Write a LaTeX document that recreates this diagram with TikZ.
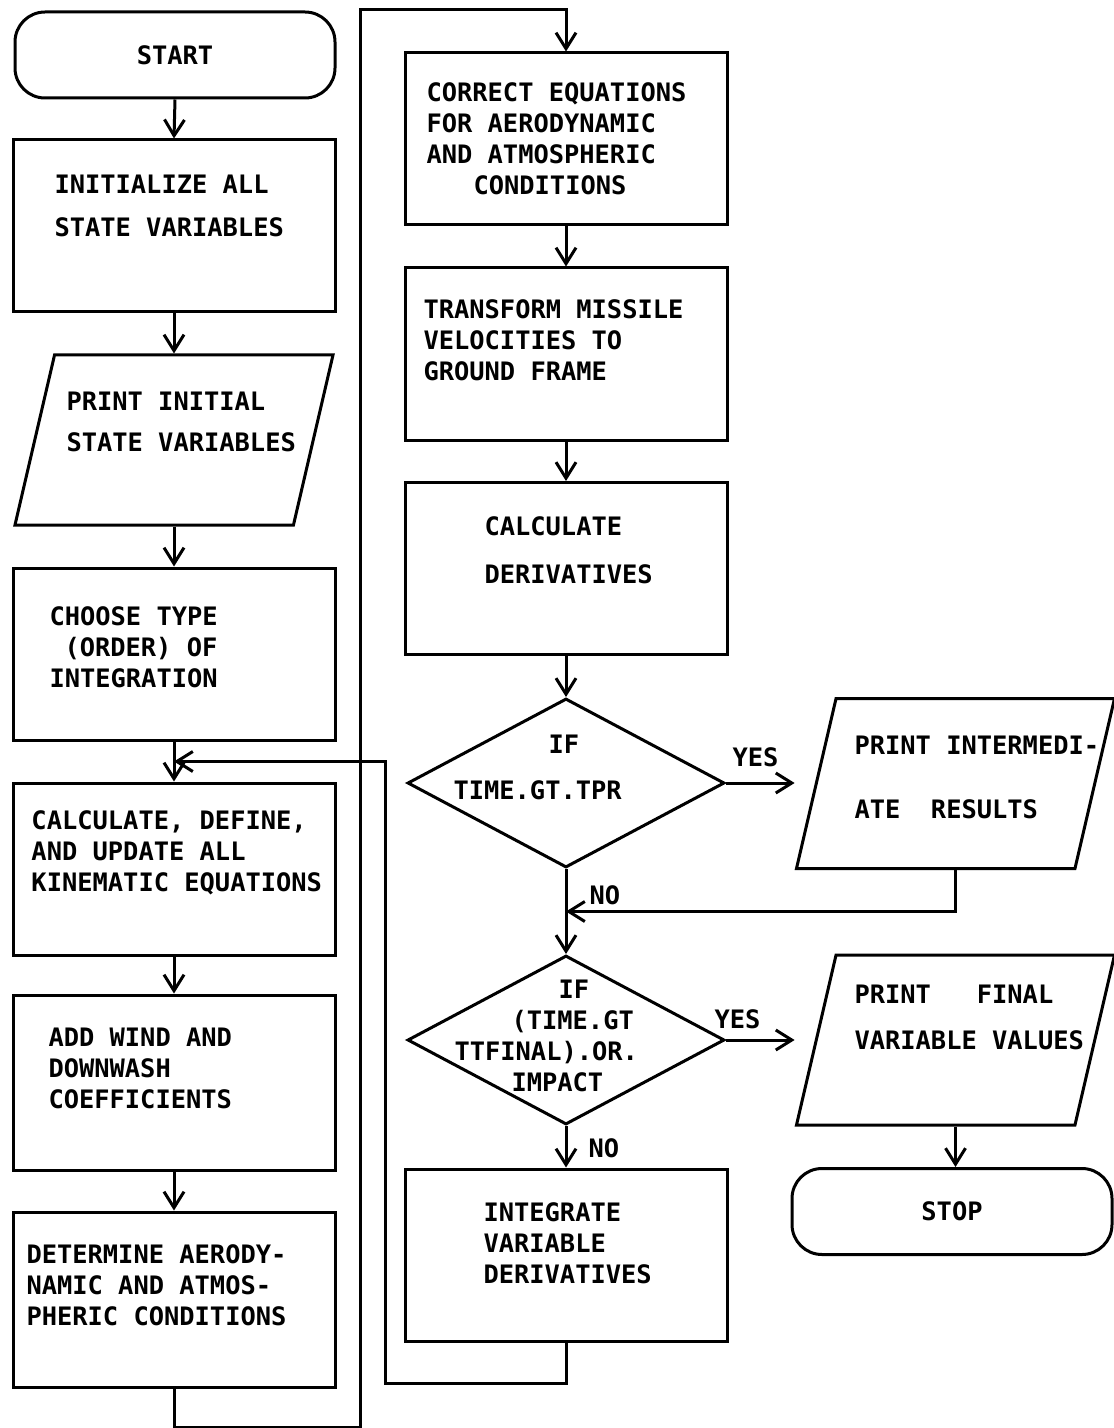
\documentclass[tikz,border=0pt]{standalone}
\usepackage{fontspec}
\setmonofont{DejaVu Sans Mono}
\usepackage{tikz}
\usetikzlibrary{shapes.geometric,arrows.meta,positioning,calc}

\begin{document}
\begin{tikzpicture}[x=0.5pt,y=-0.5pt,line width=1.5pt,
    proc/.style={draw, rectangle, minimum width=161pt, minimum height=86pt, inner sep=0pt},
    term/.style={draw, rectangle, rounded corners=15pt, minimum width=160pt, minimum height=43pt, inner sep=0pt, font=\ttfamily\bfseries\fontsize{12.7}{15.5}\selectfont},
    io/.style={draw, trapezium, trapezium left angle=80.6, trapezium right angle=99.4, trapezium stretches=true, minimum width=159pt, minimum height=85pt, inner sep=2pt},
    decide/.style={draw, diamond, minimum width=158.5pt, minimum height=84.5pt, inner sep=0pt},
    txt/.style={font=\ttfamily\bfseries\fontsize{12.7}{15.5}\selectfont, inner sep=0pt, align=left, anchor=north west},
    arr/.style={-{Straight Barb[length=8pt,width=10pt]}}]
    \useasboundingbox (0,0) rectangle (1113,1428);

    % Left column
    \node[term] (start) at (175,55) {START};
    \node[proc] (init) at (174,226) {};
    \node[txt] (init-t) at (53,173) {INITIALIZE ALL\\[6pt]STATE VARIABLES};
    \node[io] (prnt) at (174,440) {};
    \node[txt] (prnt-t) at (65,390) {PRINT INITIAL\\[5pt]STATE VARIABLES};
    \node[proc] (choose) at (174,654) {};
    \node[txt] (choose-t) at (48,605) {CHOOSE TYPE\\\hspace*{7.5pt}(ORDER) OF\\INTEGRATION};
    \node[proc] (kin) at (174,869) {};
    \node[txt] (kin-t) at (30,809) {CALCULATE, DEFINE,\\AND UPDATE ALL\\KINEMATIC EQUATIONS};
    \node[proc, minimum height=87.5pt] (wind) at (174,1082.5) {};
    \node[txt] (wind-t) at (47,1026) {ADD WIND AND\\DOWNWASH\\COEFFICIENTS};
    \node[proc, minimum height=87.5pt] (aero) at (174,1299.5) {};
    \node[txt] (aero-t) at (25,1243) {DETERMINE AERODY-\\NAMIC AND ATMOS-\\PHERIC CONDITIONS};

    % Right column
    \node[proc] (corr) at (566,139) {};
    \node[txt] (corr-t) at (425,81) {CORRECT EQUATIONS\\FOR AERODYNAMIC\\AND ATMOSPHERIC\\\hspace*{23.5pt}CONDITIONS};
    \node[proc] (trans) at (566,354) {};
    \node[txt] (trans-t) at (422,298) {TRANSFORM MISSILE\\VELOCITIES TO\\GROUND FRAME};
    \node[proc] (deriv) at (566,568.5) {};
    \node[txt] (deriv-t) at (483,515) {CALCULATE\\[8.5pt]DERIVATIVES};
    \node[decide] (tpr) at (566,783) {};
    \node[txt] (tpr-t) at (452,733) {\hspace*{47.5pt}IF\\[7.5pt]TIME.GT.TPR};
    \node[decide] (fin) at (566,1040) {};
    \node[txt] (fin-t) at (453,978) {\hspace*{52pt}IF\\\hspace*{28.5pt}(TIME.GT\\TTFINAL).OR.\\\hspace*{28.5pt}IMPACT};
    \node[proc] (integ) at (566,1255) {};
    \node[txt] (integ-t) at (482,1201) {INTEGRATE\\VARIABLE\\DERIVATIVES};

    % Output column
    \node[io] (inter) at (955.5,783.5) {};
    \node[txt] (inter-t) at (853,734) {PRINT INTERMEDI-\\[16.5pt]ATE~~RESULTS};
    \node[io] (final) at (955.5,1040) {};
    \node[txt] (final-t) at (853,983) {PRINT~~~FINAL\\[7.5pt]VARIABLE VALUES};
    \node[term] (stop) at (952,1211.5) {STOP};

    % Main flow
    \foreach \a/\b in {start/init, init/prnt, prnt/choose, choose/kin, kin/wind, wind/aero,
                       corr/trans, trans/deriv, deriv/tpr, tpr/fin, fin/integ}
        \draw[arr] (\a.south) -- (\b.north);

    % Branches
    \draw[arr] (tpr.east) -- (tpr.east -| inter.bottom left corner);
    \node[txt, anchor=south west] (yes1) at ($(tpr.east)+(5,-15)$) {YES};
    \draw[arr] (fin.east) -- (fin.east -| final.bottom left corner);
    \node[txt, anchor=south west] (yes2) at ($(fin.east)+(-13,-10)$) {YES};
    \node[txt, anchor=west] (no2) at ($(fin.south)+(21,22)$) {NO};
    \draw[arr] (final.south) -- (final.south |- stop.north);

    \coordinate (merge) at ($(tpr.south)!.5!(fin.north)$);
    \draw[arr] (inter.south) |- (merge);
    \node[txt, anchor=south west] (no1) at ($(merge)+(22,-5)$) {NO};

    % Loop back and jump to second column
    \coordinate (join) at ($(choose.south)!.5!(kin.north)$);
    \coordinate (rail) at (385,1383);
    \draw[arr] (integ.south) |- (rail) |- (join);
    \coordinate (railA) at (360,1427);
    \coordinate (railB) at (360,10);
    \draw[arr] (aero.south) |- (railA) -- (railB) -| (corr.north);
\end{tikzpicture}
\end{document}
